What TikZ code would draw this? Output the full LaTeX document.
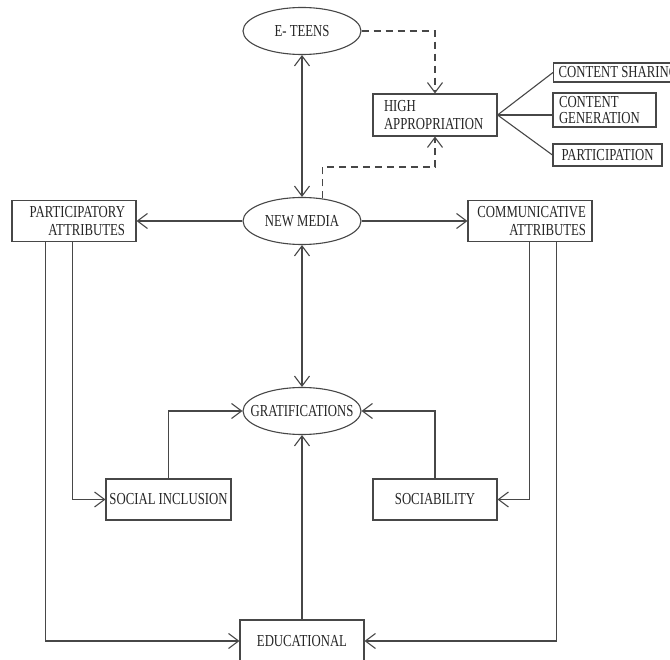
\documentclass[tikz,border=0pt]{standalone}
\usepackage{fontspec}
\setmainfont{Liberation Serif}[FakeStretch=0.76]
\usetikzlibrary{arrows.meta,shapes.geometric,calc}
\definecolor{linec}{HTML}{474747}
\definecolor{textc}{HTML}{262626}
\begin{document}
\begin{tikzpicture}[x=1pt,y=-1pt,
  every node/.style={font=\fontsize{16.8}{17.5}\selectfont, text=textc},
  bx/.style={draw=linec, line width=1.1pt, rectangle, inner sep=0pt},
  el/.style={draw=linec, line width=1.1pt, ellipse, inner sep=0pt, minimum width=118pt, minimum height=47pt},
  ar/.style={draw=linec, line width=1.1pt, -{Straight Barb[length=10pt,width=15pt]}},
  dar/.style={draw=linec, line width=1.1pt, {Straight Barb[length=10pt,width=15pt]}-{Straight Barb[length=10pt,width=15pt]}},
  plain/.style={draw=linec, line width=1.1pt},
  dsh/.style={dash pattern=on 7pt off 5pt}
]
\fill[white] (0,0) rectangle (670,660);
\useasboundingbox (0,0) rectangle (670,660);
\clip (0,0) rectangle (670,660);

% ellipses
\node[el] (et) at (302,31) {\makebox[0pt]{E- TEENS}};
\node[el] (nm) at (302,221) {\makebox[0pt]{NEW MEDIA}};
\node[el] (gr) at (302,411) {\makebox[0pt]{GRATIFICATIONS}};

% boxes
\node[bx, minimum width=124pt, minimum height=42pt, text width=102pt, align=left] (ha) at (435,115) {HIGH\\APPROPRIATION};
\node[bx, minimum height=19pt, inner xsep=5pt, anchor=west] (cs) at (553,72.5) {CONTENT SHARING};
\node[bx, minimum width=103pt, minimum height=34pt, text width=91pt, align=left, font=\fontsize{16.8}{16.5}\selectfont] (cg) at (604.5,110) {CONTENT\\GENERATION};
\node[bx, minimum width=109pt, minimum height=22pt] (pa) at (607.5,155) {PARTICIPATION};
\node[bx, minimum width=124pt, minimum height=41pt, text width=102pt, align=right] (pt) at (74,221) {PARTICIPATORY\\ATTRIBUTES};
\node[bx, minimum width=124pt, minimum height=41pt, text width=112pt, align=right] (ca) at (530,221) {COMMUNICATIVE\\ATTRIBUTES};
\node[bx, minimum width=125pt, minimum height=41pt] (si) at (168.5,499.5) {SOCIAL INCLUSION};
\node[bx, minimum width=124pt, minimum height=41pt] (so) at (435,499.5) {SOCIABILITY};
\node[bx, minimum width=124pt, minimum height=42pt] (ed) at (302,641) {EDUCATIONAL};

% connectors
\draw[dar] (et) -- (nm);
\draw[dar] (nm) -- (gr);
\draw[ar] (nm.west) -- (pt.east);
\draw[ar] (nm.east) -- (ca.west);
\draw[ar, dsh] (et.east) -| (ha.north);
\coordinate (dk) at (435,167);
\draw[ar, dsh] (nm.48) |- (dk) -- (ha.south);
\draw[plain] (ha.east) -- (cs.west);
\draw[plain] (ha.east) -- (cg.west |- ha.east);
\draw[plain] (ha.east) -- (pa.west);
\draw[ar] (si.north) |- (gr.west);
\draw[ar] (so.north) |- (gr.east);
\draw[ar] (ed.north) -- (gr.south);
\coordinate (p1) at ($(pt.south west)+(34,0)$);
\coordinate (p2) at ($(pt.south west)+(61,0)$);
\draw[ar] (p2) |- (si.west);
\draw[ar] (p1) |- (ed.west);
\coordinate (c1) at ($(ca.south west)+(62,0)$);
\coordinate (c2) at ($(ca.south west)+(89,0)$);
\draw[ar] (c1) |- (so.east);
\draw[ar] (c2) |- (ed.east);
\end{tikzpicture}
\end{document}
